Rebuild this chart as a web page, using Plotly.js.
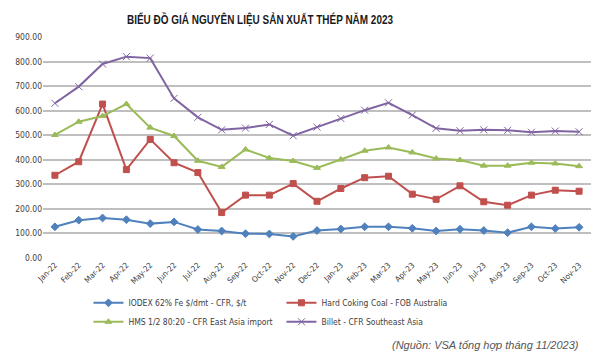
<!DOCTYPE html>
<html><head><meta charset="utf-8">
<script src="https://cdn.plot.ly/plotly-3.0.1.min.js"></script>
<style>html,body{margin:0;padding:0;background:#fff}#chart{width:600px;height:358px}</style>
</head><body><div id="chart"></div>
<script>
const months = ["Jan-22","Feb-22","Mar-22","Apr-22","May-22","Jun-22","Jul-22","Aug-22","Sep-22","Oct-22","Nov-22","Dec-22","Jan-23","Feb-23","Mar-23","Apr-23","May-23","Jun-23","Jul-23","Aug-23","Sep-23","Oct-23","Nov-23"];
const iodex = [127,154,163,156,140,147,116,110,99,98,88,112,118,127,127,121,110,117,112,103,127,120,125];
const coking = [337,392,627,360,483,388,348,185,256,256,303,231,283,327,333,260,239,294,229,215,256,276,272];
const hms = [501,555,578,627,531,497,396,371,442,407,395,367,401,437,450,430,405,399,376,376,388,385,374];
const billet = [630,698,790,820,814,650,573,522,529,544,498,533,568,602,632,582,528,518,522,520,512,517,514];
const yTicks = [0,100,200,300,400,500,600,700,800,900];
const names = ["IODEX 62% Fe $/dmt - CFR, $/t","Hard Coking Coal - FOB Australia","HMS 1/2 80:20 - CFR East Asia import","Billet - CFR Southeast Asia"];

const mk = (y, name, color, symbol, size) => ({
  x: months, y: y, name: name, type: 'scatter', mode: 'lines+markers',
  line: {color: color, width: 2},
  marker: {symbol: symbol, size: size, color: color, line: {color: color, width: 1}}
});
const data = [
  mk(iodex, names[0], '#4F81BD', 'diamond', 6),
  mk(coking, names[1], '#C0504D', 'square', 6),
  mk(hms, names[2], '#9BBB59', 'triangle-up', 6),
  mk(billet, names[3], '#8064A2', 'x-thin-open', 7)
];
const narrow = 'DejaVu Sans Condensed, Liberation Sans Narrow, Arial Narrow, sans-serif';
const L = 42.5, W = 548.5, T = 36.7, H = 221;
const px2x = p => (p - L) / W;
const px2y = p => (T + H - p) / H;
const layout = {
  width: 600, height: 358,
  margin: {l: L, r: 600 - L - W, t: T, b: 358 - T - H, autoexpand: false},
  paper_bgcolor: '#ffffff', plot_bgcolor: '#ffffff',
  font: {family: narrow, color: '#404040'},
  title: {text: 'BIỂU ĐỒ GIÁ NGUYÊN LIỆU SẢN XUẤT THÉP NĂM 2023', x: 260/600, xanchor: 'center', xref: 'container', y: 1 - 19.5/358, yanchor: 'middle',
    font: {family: 'Liberation Sans, Arial, sans-serif', size: 13.5, color: '#1a1a1a', weight: 'bold'}},
  xaxis: {type: 'category', range: [-0.5, 22.5], tickangle: -45, showgrid: false, zeroline: false,
    showline: false, ticks: '', tickfont: {size: 8, color: '#404040'}},
  yaxis: {range: [0, 900], tickvals: yTicks, ticktext: yTicks.map(v => v.toFixed(2)),
    showgrid: true, gridcolor: '#BFBFBF', gridwidth: 1.5, zeroline: false, showline: false, ticks: '',
    tickfont: {size: 8.5, color: '#404040'}},
  showlegend: true,
  legend: {orientation: 'h', x: px2x(88), xanchor: 'left', y: px2y(288), yanchor: 'top', entrywidth: 148, entrywidthmode: 'pixels',
    itemwidth: 30, font: {size: 8.5, color: '#404040', family: narrow}, tracegroupgap: 0},
  annotations: [{text: '(Nguồn: VSA tổng hợp tháng 11/2023)', xref: 'paper', yref: 'paper', x: px2x(581), y: px2y(345),
    yanchor: 'middle', xanchor: 'right', showarrow: false,
    font: {family: 'Liberation Sans, Arial, sans-serif', size: 11, color: '#555555', style: 'italic'}}]
};
Plotly.newPlot('chart', data, layout, {displayModeBar: false}).then(gd => {
  const t = gd.querySelector('.gtitle');
  if (t) { t.setAttribute('textLength', '266'); t.setAttribute('lengthAdjust', 'spacingAndGlyphs'); }
});
</script></body></html>
